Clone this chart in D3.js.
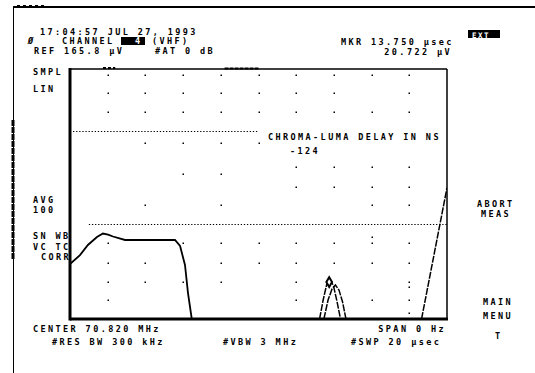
<!DOCTYPE html>
<html>
<head>
<meta charset="utf-8">
<script src="https://cdnjs.cloudflare.com/ajax/libs/d3/7.8.5/d3.min.js"></script>
<style>
    body { margin: 0; background: #fff; }
    text { font-family: "DejaVu Sans Mono", monospace; font-weight: bold; font-size: 8.5px; letter-spacing: 2.4px; fill: #000; }
</style>
</head>
<body>
<svg id="screen" width="535" height="373"></svg>
<script>
// zero span sweep: time in usec across, linear amplitude in uV up
var sweepTime = [0, 20];
var refLevel = 165.8;

var traceMain = [[0, 36.5], [0.53, 42.4], [0.95, 49.1], [1.43, 54.4], [1.75, 56.7], [2.02, 56.0],
    [2.28, 54.7], [2.92, 52.4], [5.57, 52.4], [5.84, 48.4], [6.10, 35.8], [6.26, 17.2], [6.46, 0]];
var traceBumpA = [[13.24, 0], [13.43, 12.6], [13.61, 22.5], [13.79, 26.5], [13.98, 21.9], [14.16, 11.9], [14.35, 0]];
var traceBumpB = [[13.47, 0], [13.69, 12.6], [13.90, 19.9], [14.08, 22.5], [14.27, 19.2], [14.46, 11.3], [14.64, 0]];
var traceRise = [[18.65, 0], [20, 87]];

var markerPos = [13.75, 24.5];
var markerTime = "13.750";
var markerAmp = "20.722";

// threshold lines: level, start, end
var thresholdLines = [[124.7, 0.16, 10.0], [63.0, 1.0, 20]];

// graticule dots: level and the columns that show a dot
var gridDots = [
    [161.8, [2, 4, 6, 8, 10, 12, 14, 16, 18]],
    [149.9, [2, 4, 6, 8, 10, 12, 14, 18]],
    [137.3, [2, 4, 6, 8, 10, 12, 14, 16, 18]],
    [116.7, [4, 6, 8, 10]],
    [100.8, [12, 14, 16, 18]],
    [96.2,  [6, 8]],
    [87.5,  [12, 14, 16, 18]],
    [75.3,  [4, 8, 16, 18]],
    [54.4,  [16]],
    [50.4,  [2, 6, 8, 10, 12, 14, 16, 18]],
    [37.1,  [2, 4, 8, 10, 12, 14, 16, 18]],
    [24.5,  [2, 4, 6, 8, 12, 18]],
    [21.2,  [18]],
    [12.3,  [2, 12, 16, 18]],
    [4.0,   [18]]
];

var leftAnnot = ["SMPL", "LIN", "AVG", "100", "SN WB", "VC TC", "CORR"];
var softKeys = ["ABORT", "MEAS", "MAIN", "MENU", "T"];

var svg = d3.select("#screen");

var plot = {left: 70, top: 69, right: 447, bottom: 319};

var x = d3.scaleLinear().domain(sweepTime).range([plot.left, plot.right]);
var y = d3.scaleLinear().domain([0, refLevel]).range([plot.bottom, plot.top]);

//Outer frame of the photographed screen

svg.append("line").attr("x1", 13).attr("y1", 7).attr("x2", 535).attr("y2", 7)
    .attr("stroke", "#000").attr("stroke-width", 2);
svg.append("line").attr("x1", 13.5).attr("y1", 7).attr("x2", 13.5).attr("y2", 373)
    .attr("stroke", "#000").attr("stroke-width", 1);
svg.append("line").attr("x1", 13).attr("y1", 120).attr("x2", 13).attr("y2", 260)
    .attr("stroke", "#000").attr("stroke-width", 3).attr("stroke-dasharray", "6,1");
svg.append("line").attr("x1", 17).attr("y1", 5.5).attr("x2", 47).attr("y2", 5.5)
    .attr("stroke", "#000").attr("stroke-width", 1).attr("stroke-dasharray", "3,3");

//Graticule

var dots = [];
gridDots.forEach(r => r[1].forEach(c => dots.push([c, r[0]])));

svg.append("g").selectAll("rect").data(dots).enter().append("rect")
    .attr("x", d => Math.round(x(d[0])) - 0.5)
    .attr("y", d => Math.round(y(d[1])) - 0.5)
    .attr("width", 1.5).attr("height", 1.5).attr("fill", "#000");

svg.append("g").selectAll("line").data(thresholdLines).enter().append("line")
    .attr("x1", d => x(d[1])).attr("x2", d => x(d[2]))
    .attr("y1", d => Math.round(y(d[0])) + 0.5).attr("y2", d => Math.round(y(d[0])) + 0.5)
    .attr("stroke", "#000").attr("stroke-width", 1.2).attr("stroke-dasharray", "1.3,1.8");

//Traces

svg.append("clipPath").attr("id", "plotClip").append("rect")
    .attr("x", plot.left).attr("y", plot.top - 2)
    .attr("width", plot.right - plot.left).attr("height", plot.bottom - plot.top + 2);

var line = d3.line().x(d => x(d[0])).y(d => y(d[1]));

var traces = svg.append("g").attr("clip-path", "url(#plotClip)");

traces.selectAll("path").data([traceMain, traceBumpA, traceBumpB, traceRise]).enter().append("path")
    .attr("d", line)
    .attr("fill", "none").attr("stroke", "#000")
    .attr("stroke-width", (d, i) => i == 0 ? 1.8 : 1.5)
    .attr("stroke-dasharray", (d, i) => i == 0 ? null : "7,1.2");

// marker diamond
svg.append("path")
    .attr("d", d3.symbol(d3.symbolDiamond, 28))
    .attr("transform", "translate(" + x(markerPos[0]) + "," + y(markerPos[1]) + ")")
    .attr("fill", "#fff").attr("stroke", "#000").attr("stroke-width", 2);

//Plot box: heavy left and bottom edges

svg.append("line").attr("x1", plot.left).attr("y1", plot.top).attr("x2", plot.right).attr("y2", plot.top)
    .attr("stroke", "#000").attr("stroke-width", 1.5);
svg.append("line").attr("x1", plot.right).attr("y1", plot.top).attr("x2", plot.right).attr("y2", plot.bottom)
    .attr("stroke", "#000").attr("stroke-width", 1.5);
svg.append("line").attr("x1", plot.left).attr("y1", plot.top - 1).attr("x2", plot.left).attr("y2", plot.bottom + 1.5)
    .attr("stroke", "#000").attr("stroke-width", 3);
svg.append("line").attr("x1", plot.left).attr("y1", plot.bottom).attr("x2", plot.right + 1).attr("y2", plot.bottom)
    .attr("stroke", "#000").attr("stroke-width", 3);

// heavier bits on the top edge, as on the screen
svg.append("line").attr("x1", x(1.75)).attr("y1", plot.top - 1).attr("x2", x(2.4)).attr("y2", plot.top - 1)
    .attr("stroke", "#000").attr("stroke-width", 2).attr("stroke-dasharray", "3,2");
svg.append("line").attr("x1", x(8.2)).attr("y1", plot.top - 0.5).attr("x2", x(10)).attr("y2", plot.top - 0.5)
    .attr("stroke", "#000").attr("stroke-width", 2).attr("stroke-dasharray", "4,1");

//Annotation text

function label(str, px, py, anchor)
{
    return svg.append("text").attr("x", px).attr("y", py)
        .attr("text-anchor", anchor || "start").text(str);
}

label("17:04:57 JUL 27, 1993", 40, 34.5);
label("\u00D8", 28, 44).style("font-style", "italic");
label("CHANNEL", 62, 44);
svg.append("rect").attr("x", 121).attr("y", 37).attr("width", 24).attr("height", 8).attr("fill", "#000");
label("4", 135, 44).style("fill", "#fff");
label("(VHF)", 152, 44);
label("REF 165.8 \u00B5V", 34, 54);
label("#AT 0 dB", 155, 54);

label("MKR " + markerTime + " \u00B5sec", 341, 45);
label(markerAmp + " \u00B5V", 452, 54.5, "end");
svg.append("rect").attr("x", 468).attr("y", 30).attr("width", 32).attr("height", 8).attr("fill", "#000");
label("EXT", 472, 37.5).style("fill", "#fff").style("font-size", "7.5px").style("letter-spacing", "1.5px");

var leftY = [75, 92, 203, 213, 239, 249.5, 260];
leftAnnot.forEach((s, i) => label(s, s == "CORR" ? 41 : 33, leftY[i]));

label("CHROMA-LUMA DELAY IN NS", 268, 140);
label("-124", 290, 154);

label("CENTER 70.820 MHz", 33, 332);
label("#RES BW 300 kHz", 52, 345);
label("#VBW 3 MHz", 223, 345);
label("SPAN 0 Hz", 446, 332, "end");
label("#SWP 20 \u00B5sec", 351, 345);

var keyPos = [[477, 206.5], [481, 216.5], [483, 305], [483, 319], [495, 339]];
softKeys.forEach((s, i) => label(s, keyPos[i][0], keyPos[i][1]));
</script>
</body>
</html>
